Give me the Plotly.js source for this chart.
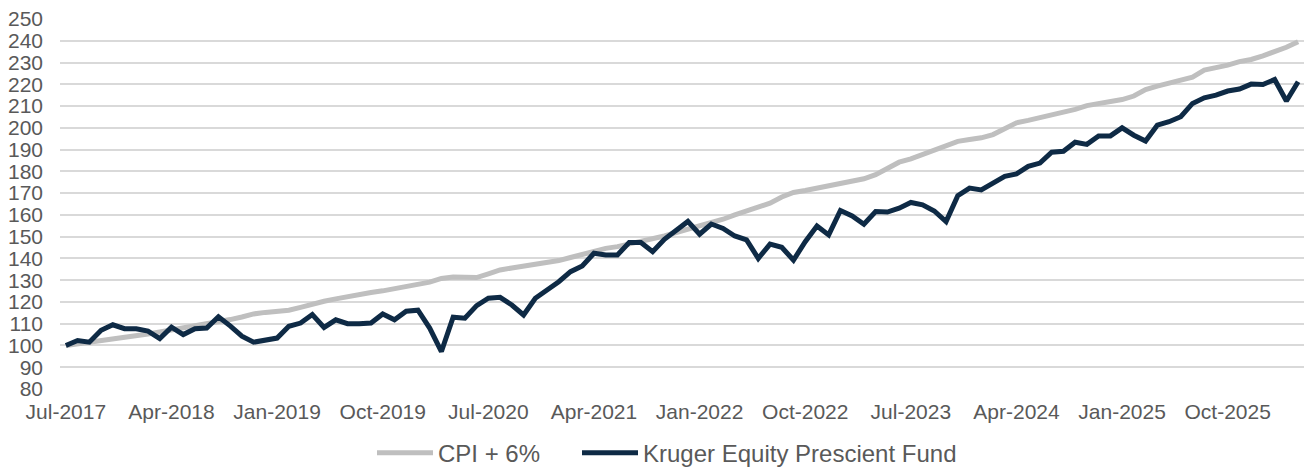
<!DOCTYPE html>
<html>
<head>
<meta charset="utf-8">
<script src="https://cdn.plot.ly/plotly-3.0.1.min.js"></script>
<style>
html,body{margin:0;padding:0;background:#fff;}
#chart{width:1312px;height:470px;}
</style>
</head>
<body>
<div id="chart"></div>
<script>
const months = [
  'Jul-2017','Aug-2017','Sep-2017','Oct-2017','Nov-2017','Dec-2017',
  'Jan-2018','Feb-2018','Mar-2018','Apr-2018','May-2018','Jun-2018','Jul-2018','Aug-2018','Sep-2018','Oct-2018','Nov-2018','Dec-2018',
  'Jan-2019','Feb-2019','Mar-2019','Apr-2019','May-2019','Jun-2019','Jul-2019','Aug-2019','Sep-2019','Oct-2019','Nov-2019','Dec-2019',
  'Jan-2020','Feb-2020','Mar-2020','Apr-2020','May-2020','Jun-2020','Jul-2020','Aug-2020','Sep-2020','Oct-2020','Nov-2020','Dec-2020',
  'Jan-2021','Feb-2021','Mar-2021','Apr-2021','May-2021','Jun-2021','Jul-2021','Aug-2021','Sep-2021','Oct-2021','Nov-2021','Dec-2021',
  'Jan-2022','Feb-2022','Mar-2022','Apr-2022','May-2022','Jun-2022','Jul-2022','Aug-2022','Sep-2022','Oct-2022','Nov-2022','Dec-2022',
  'Jan-2023','Feb-2023','Mar-2023','Apr-2023','May-2023','Jun-2023','Jul-2023','Aug-2023','Sep-2023','Oct-2023','Nov-2023','Dec-2023',
  'Jan-2024','Feb-2024','Mar-2024','Apr-2024','May-2024','Jun-2024','Jul-2024','Aug-2024','Sep-2024','Oct-2024','Nov-2024','Dec-2024',
  'Jan-2025','Feb-2025','Mar-2025','Apr-2025','May-2025','Jun-2025','Jul-2025','Aug-2025','Sep-2025','Oct-2025','Nov-2025','Dec-2025',
  'Jan-2026','Feb-2026','Mar-2026','Apr-2026'
];

const cpiPlus6 = [
  100, 100.7, 101.4, 102.4, 103.1, 103.8,
  104.5, 105.3, 106.2, 107.1, 107.9, 108.7, 109.6, 110.7, 111.9, 113.1, 114.5, 115.2,
  115.7, 116.2, 117.5, 119.1, 120.3, 121.4, 122.5, 123.4, 124.3, 125.1, 126.0, 126.9,
  127.8, 129.1, 130.8, 131.5, 131.4, 131.2, 132.9, 134.7, 135.6, 136.4, 137.2, 138.1,
  139.0, 140.4, 141.7, 143.4, 144.6, 145.4, 146.6, 147.7, 148.9, 150.3, 151.9, 153.4,
  155.2, 156.5, 158.0, 160.0, 161.8, 163.4, 165.4, 168.2, 170.3, 171.2, 172.3, 173.4,
  174.6, 175.8, 176.6, 178.5, 181.5, 184.2, 185.7, 187.7, 189.5, 191.8, 193.8, 194.6,
  195.4, 196.9, 199.5, 202.3, 203.4, 204.6, 205.7, 207.4, 208.5, 210.2, 211.2, 212.0,
  213.0, 214.6, 217.6, 219.2, 220.4, 221.8, 223.3, 226.5, 227.6, 228.8, 230.4, 231.4,
  233.1, 235.0, 237.0, 239.6
];

const krugerFund = [
  100, 102.3, 101.5, 107.0, 109.5, 107.7,
  107.7, 106.6, 103.2, 108.4, 105.0, 107.7, 108.0, 113.2, 109.0, 104.3, 101.5, 102.3,
  103.4, 108.8, 110.3, 114.2, 108.3, 111.8, 110.0, 110.0, 110.3, 114.5, 111.8, 115.7,
  116.2, 108.0, 97.2, 113.0, 112.5, 118.3, 121.7, 122.1, 118.6, 114.0, 121.7, 125.5,
  129.3, 133.9, 136.5, 142.4, 141.6, 141.6, 147.3, 147.3, 143.1, 148.8, 152.9, 157.0,
  151.1, 155.8, 153.8, 150.3, 148.5, 140.0, 146.6, 145.1, 139.2, 147.7, 154.9, 150.8,
  162.0, 159.5, 155.7, 161.5, 161.3, 163.1, 165.7, 164.6, 161.8, 156.9, 168.8, 172.3,
  171.5, 174.6, 177.7, 178.8, 182.3, 183.8, 188.8, 189.2, 193.4, 192.4, 196.3, 196.3,
  200.0, 196.6, 193.9, 201.2, 202.8, 205.1, 211.2, 213.8, 215.0, 216.9, 217.8, 220.1,
  219.9, 222.2, 212.3, 221.2
];

const tickLabels = ['Jul-2017','Apr-2018','Jan-2019','Oct-2019','Jul-2020','Apr-2021',
  'Jan-2022','Oct-2022','Jul-2023','Apr-2024','Jan-2025','Oct-2025'];

const seriesNames = ['CPI + 6%', 'Kruger Equity Prescient Fund'];

const FONT = 'Arial, "Liberation Sans", sans-serif';

const traces = [
  {x: months, y: cpiPlus6, name: seriesNames[0], type: 'scatter', mode: 'lines',
   legend: 'legend', line: {color: '#bfbfbf', width: 5}},
  {x: months, y: krugerFund, name: seriesNames[1], type: 'scatter', mode: 'lines',
   legend: 'legend2', line: {color: '#0e2a45', width: 5}}
];

const legendBase = {
  orientation: 'h', xanchor: 'left', xref: 'container',
  y: 0.036, yanchor: 'middle', yref: 'container',
  font: {family: FONT, size: 24, color: '#595959'},
  itemwidth: 56, bgcolor: 'rgba(0,0,0,0)', borderwidth: 0
};

const layout = {
  width: 1312, height: 470,
  margin: {l: 60, r: 8, t: 19, b: 81},
  paper_bgcolor: '#ffffff', plot_bgcolor: '#ffffff',
  font: {family: FONT, color: '#595959', size: 21},
  showlegend: true,
  legend: Object.assign({}, legendBase, {x: 372 / 1312}),
  legend2: Object.assign({}, legendBase, {x: 577 / 1312}),
  xaxis: {type: 'category', range: [-0.5, months.length - 0.5],
          tickmode: 'array', tickvals: tickLabels, ticktext: tickLabels,
          showgrid: false, zeroline: false, showline: false, ticks: '',
          ticklabelstandoff: 8,
          tickangle: 0, tickfont: {family: FONT, size: 21, color: '#595959'}},
  yaxis: {range: [80, 250], dtick: 10, tick0: 80, showgrid: true,
          gridcolor: '#d9d9d9', gridwidth: 2, zeroline: false, showline: false,
          ticks: '', ticklabelstandoff: 16,
          tickfont: {family: FONT, size: 21, color: '#595959'}},
  hovermode: false
};

Plotly.newPlot('chart', traces, layout, {displayModeBar: false, staticPlot: true});
</script>
</body>
</html>
